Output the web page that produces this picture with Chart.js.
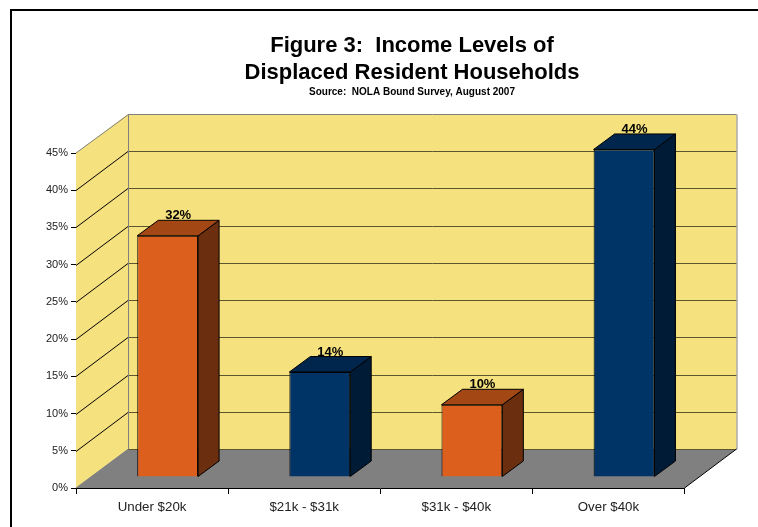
<!DOCTYPE html>
<html>
<head>
<meta charset="utf-8">
<title>Figure 3</title>
<script src="https://cdn.jsdelivr.net/npm/chart.js@4/dist/chart.umd.min.js"></script>
<style>
  html, body { margin: 0; padding: 0; background: #fff; overflow: hidden; }
  #wrap { position: absolute; left: 0; top: 0; width: 758px; height: 527px; }
</style>
</head>
<body>
<div id="wrap"><canvas id="grafico"></canvas></div>
<script>
const categorias = ["Under $20k", "$21k - $31k", "$31k - $40k", "Over $40k"];
const valores = [32.4, 14.1, 9.7, 44];
const etiquetas = ["32%", "14%", "10%", "44%"];
const maximo = 45;
const paso = 5;

const colorFrente = ["#DD5F1E", "#003366", "#DD5F1E", "#003366"];
const colorLado = ["#6B2E0E", "#001B36", "#6B2E0E", "#001B36"];
const colorTecho = ["#A34715", "#00264D", "#A34715", "#00264D"];

// depth of the box, the bars and the shift of the bars inside it
const fondo = { x: 52, y: -39 };
const barra = { x: 21, y: -15.5 };
const corrido = { x: 15.6, y: -11 };

function linea(ctx, x1, y1, x2, y2, color) {
  ctx.strokeStyle = color;
  ctx.lineWidth = 1;
  ctx.beginPath();
  ctx.moveTo(x1, y1);
  ctx.lineTo(x2, y2);
  ctx.stroke();
}

function poligono(ctx, puntos, relleno) {
  ctx.fillStyle = relleno;
  ctx.strokeStyle = "#000";
  ctx.lineWidth = 1;
  ctx.beginPath();
  puntos.forEach((p, i) => (i ? ctx.lineTo(p[0], p[1]) : ctx.moveTo(p[0], p[1])));
  ctx.closePath();
  ctx.fill();
  ctx.stroke();
}

const caja3d = {
  id: "caja3d",
  afterLayout(chart) {
    // the titles are centred over the box, not over the page
    chart.boxes.filter((b) => b.options && b.options.text).forEach((b) => {
      b.left = 66;
      b.right = 758;
    });
  },
  beforeDraw(chart) {
    const ctx = chart.ctx;
    ctx.save();
    ctx.fillStyle = "#000";
    ctx.fillRect(10, 9, 748, 2);
    ctx.fillRect(10, 9, 2, 518);
    ctx.restore();
  },
  beforeDatasetsDraw(chart) {
    const ctx = chart.ctx;
    const { left, right, top, bottom } = chart.chartArea;
    const y = chart.scales.y;
    ctx.save();
    ctx.lineWidth = 1;

    // walls
    ctx.fillStyle = "#F5E17E";
    ctx.fillRect(left + fondo.x, top + fondo.y, right - left, bottom - top);
    ctx.beginPath();
    ctx.moveTo(left, bottom);
    ctx.lineTo(left, top);
    ctx.lineTo(left + fondo.x, top + fondo.y);
    ctx.lineTo(left + fondo.x, bottom + fondo.y);
    ctx.closePath();
    ctx.fill();

    // floor
    ctx.fillStyle = "#808080";
    ctx.beginPath();
    ctx.moveTo(left, bottom);
    ctx.lineTo(right, bottom);
    ctx.lineTo(right + fondo.x, bottom + fondo.y);
    ctx.lineTo(left + fondo.x, bottom + fondo.y);
    ctx.closePath();
    ctx.fill();

    // grid on the two walls
    for (let v = paso; v < maximo; v += paso) {
      const py = Math.round(y.getPixelForValue(v)) + 0.5;
      linea(ctx, left, py, left + fondo.x, py + fondo.y, "#000");
      linea(ctx, left + fondo.x, py + fondo.y, right + fondo.x, py + fondo.y, "#5C5630");
    }

    // box edges
    const xf = left + fondo.x + 0.5;
    const yf = top + fondo.y + 0.5;
    linea(ctx, left, top, xf, yf, "#808080");
    linea(ctx, xf, yf, right + fondo.x, yf, "#808080");
    linea(ctx, xf, yf, xf, bottom + fondo.y, "#808080");
    linea(ctx, right + fondo.x + 0.5, yf, right + fondo.x + 0.5, bottom + fondo.y, "#808080");
    linea(ctx, left, bottom, xf, bottom + fondo.y, "#808080");
    linea(ctx, xf, bottom + fondo.y + 0.5, right + fondo.x, bottom + fondo.y + 0.5, "#5C5630");
    linea(ctx, right, bottom, right + fondo.x, bottom + fondo.y, "#000");
    ctx.restore();
  },
  beforeDatasetDraw(chart) {
    chart.ctx.save();
    chart.ctx.translate(corrido.x, corrido.y);
  },
  afterDatasetDraw(chart, args) {
    const ctx = chart.ctx;
    args.meta.data.forEach((el, i) => {
      const b = el.getProps(["x", "y", "base", "width"]);
      const izq = b.x - b.width / 2;
      const der = b.x + b.width / 2;
      poligono(ctx, [[der, b.y], [der + barra.x, b.y + barra.y], [der + barra.x, b.base + barra.y], [der, b.base]], colorLado[i]);
      poligono(ctx, [[izq, b.y], [izq + barra.x, b.y + barra.y], [der + barra.x, b.y + barra.y], [der, b.y]], colorTecho[i]);
    });
    args.meta.data.forEach((el, i) => {
      const b = el.getProps(["x", "y"]);
      ctx.fillStyle = "#000";
      ctx.font = "bold 13px 'Liberation Sans'";
      ctx.textAlign = "center";
      ctx.textBaseline = "alphabetic";
      ctx.fillText(etiquetas[i], b.x + barra.x / 2, b.y + barra.y - 1);
    });
    ctx.restore();
  },
};

new Chart(document.getElementById("grafico"), {
  type: "bar",
  data: {
    labels: categorias,
    datasets: [
      {
        data: valores,
        backgroundColor: colorFrente,
        borderColor: "#000",
        borderWidth: 1,
        barPercentage: 0.4,
        categoryPercentage: 1,
        clip: false,
      },
    ],
  },
  options: {
    responsive: true,
    maintainAspectRatio: false,
    animation: false,
    layout: { padding: { left: 0, right: 73.5, top: 0, bottom: 0 } },
    plugins: {
      legend: { display: false },
      tooltip: { enabled: false },
      title: {
        display: true,
        text: ["Figure 3:  Income Levels of", "Displaced Resident Households"],
        color: "#000",
        font: { family: "'Liberation Sans'", size: 22, weight: "bold", lineHeight: 1.2 },
        padding: { top: 33, bottom: 0 },
      },
      subtitle: {
        display: true,
        text: "Source:  NOLA Bound Survey, August 2007",
        color: "#000",
        font: { family: "'Liberation Sans'", size: 10, weight: "bold" },
        padding: { top: 0.5, bottom: 54.7 },
      },
    },
    scales: {
      x: {
        grid: { drawOnChartArea: false, drawTicks: true, tickLength: 6, color: "#000" },
        border: { color: "#000" },
        ticks: { color: "#222", font: { family: "'Liberation Sans'", size: 13.3 }, padding: 5, maxRotation: 0 },
        afterFit(s) { s.height = 39; },
      },
      y: {
        min: 0,
        max: maximo,
        grid: { drawOnChartArea: false, drawTicks: true, tickLength: 5, color: "#000" },
        border: { color: "#000" },
        ticks: {
          stepSize: paso,
          color: "#222",
          font: { family: "'Liberation Sans'", size: 11 },
          padding: 3,
          callback: (v) => v + "%",
        },
        afterFit(s) { s.width = 76; },
      },
    },
  },
  plugins: [caja3d],
});
</script>
</body>
</html>
